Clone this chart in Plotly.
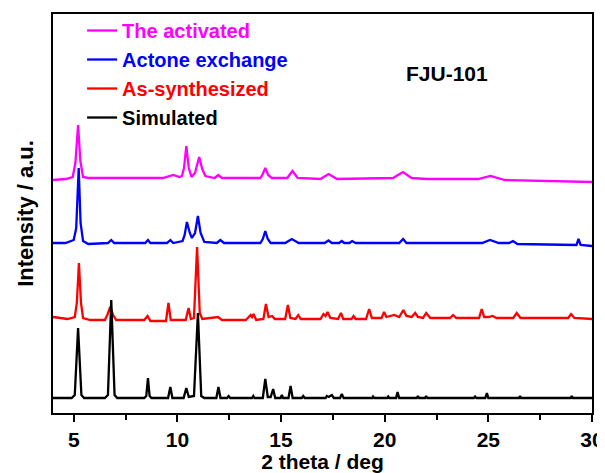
import plotly.graph_objects as go

# ---- data (2theta in deg, stacked intensity in arbitrary units) ----
sim_x = [4.0, 4.9, 5.05, 5.21, 5.37, 5.5, 6.5, 6.65, 6.81, 6.97, 7.1, 8.4, 8.5, 8.58, 8.66, 8.75,
         9.55, 9.66, 9.76, 10.3, 10.43, 10.55, 10.8, 10.99, 11.15, 11.3, 11.88, 11.98, 12.08,
         12.4, 12.47, 12.55, 13.6, 13.66, 13.72, 14.12, 14.24, 14.36, 14.5, 14.62, 14.72,
         14.98, 15.04, 15.1, 15.36, 15.46, 15.56, 16.0, 16.07, 16.14, 17.15, 17.21, 17.3,
         17.45, 17.55, 17.85, 17.93, 18.02, 19.4, 19.44, 19.5, 20.12, 20.17, 20.22, 20.55,
         20.62, 20.7, 21.55, 21.6, 21.66, 21.95, 22.0, 22.06, 24.3, 24.36, 24.42, 24.85,
         24.93, 25.0, 26.48, 26.53, 26.58, 28.97, 29.02, 29.08, 30.0]
sim_y = [15, 15, 18, 85, 18, 15, 15, 18, 113, 18, 15, 15, 17, 35, 17, 15,
         15, 26, 15, 15, 25, 16, 17, 100, 17, 15, 15, 26, 15,
         15, 17, 15, 15, 17, 15, 15, 34, 16, 16, 24, 15,
         15, 18, 15, 15, 27, 15, 15, 17, 15, 15, 17, 16,
         18, 15, 15, 19, 15, 15, 16.5, 15, 15, 16.5, 15, 15,
         21, 15, 15, 17, 15, 15, 17, 15, 15, 16.5, 15, 15,
         20, 15, 15, 17, 15, 15, 17, 15, 15]

syn_x = [4.0, 4.7, 5.05, 5.15, 5.25, 5.35, 5.45, 5.8, 6.5, 6.62, 6.76, 6.9, 7.05, 8.4, 8.56, 8.7,
         9.45, 9.57, 9.68, 10.4, 10.54, 10.65, 10.8, 10.95, 11.08, 11.2, 11.58, 11.96, 12.15,
         13.3, 13.53, 13.6, 13.67, 13.8, 14.15, 14.27, 14.4, 14.57, 14.7, 15.2, 15.33, 15.45,
         15.7, 15.83, 15.95, 16.9, 17.05, 17.15, 17.24, 17.38, 17.75, 17.89, 18.0, 18.4, 18.5,
         18.6, 19.1, 19.25, 19.38, 19.85, 19.97, 20.08, 20.46, 20.7, 20.9, 21.05, 21.3, 21.47,
         21.6, 21.85, 22.0, 22.2, 23.15, 23.3, 23.45, 24.55, 24.68, 24.8, 25.0, 25.2, 25.4,
         26.2, 26.37, 26.55, 28.85, 28.99, 29.15, 30.0]
syn_y = [96, 94, 96, 110, 150, 110, 95, 93, 93, 98, 106, 98, 93, 93, 97, 92,
         92, 110, 93, 93, 105, 94, 95, 166, 100, 94, 95, 96, 93,
         93, 98, 96, 99, 93, 94, 109, 96, 97, 94, 94, 108, 95,
         94, 98, 94, 94, 99, 97, 101, 95, 94, 100, 94, 94, 97,
         94, 94, 104, 95, 95, 101, 96, 98, 96, 103, 97, 96, 100,
         96, 95, 100, 95, 95, 98, 95, 95, 104, 96, 96, 97, 95,
         95, 100, 95, 95, 99, 95, 94]

ace_x = [4.0, 4.6, 5.0, 5.12, 5.24, 5.33, 5.45, 5.7, 6.65, 6.81, 6.95, 8.45, 8.58, 8.7, 9.5, 9.66,
         9.8, 10.25, 10.35, 10.46, 10.6, 10.7, 10.85, 10.99, 11.12, 11.3, 11.9, 12.07, 12.25,
         14.0, 14.12, 14.24, 14.36, 14.5, 15.2, 15.52, 15.85, 17.1, 17.29, 17.45, 17.8, 17.93,
         18.05, 18.3, 18.43, 18.6, 20.7, 20.89, 21.05, 24.7, 25.08, 25.5, 26.0, 26.19, 26.4,
         29.25, 29.35, 29.45, 30.0]
ace_y = [170, 170, 173, 185, 245, 190, 172, 169, 170, 173, 170, 170, 173, 170, 170, 173,
         170, 172, 178, 191, 180, 175, 180, 197, 180, 171, 170, 173, 170,
         170, 174, 182, 174, 170, 170, 174, 170, 170, 172.5, 170, 170, 172,
         170, 170, 172, 170, 170, 174, 170, 170, 173, 170, 170, 172, 169,
         168, 174, 168, 167]

act_x = [4.0, 4.6, 4.95, 5.08, 5.21, 5.32, 5.45, 5.7, 9.3, 9.8, 10.1, 10.22, 10.32, 10.43, 10.55,
         10.68, 10.85, 11.05, 11.2, 11.35, 11.8, 11.97, 12.15, 14.0, 14.1, 14.24, 14.38, 14.55,
         15.3, 15.55, 15.8, 16.9, 17.29, 17.7, 20.4, 20.88, 21.3, 22.0, 24.5, 25.1, 25.8, 30.0]
act_y = [233, 234, 236, 250, 288, 252, 236, 235, 235, 238, 236, 237, 245, 267, 245,
         236, 240, 256, 244, 237, 235, 238, 235, 235, 238, 245, 238, 235,
         235, 242, 235, 234, 239, 234, 235, 241, 235, 234, 234, 237, 233, 231]

series_names = ["The activated", "Actone exchange", "As-synthesized", "Simulated"]
series_colors = ["#FF00FF", "#0000FF", "#FF0000", "#000000"]
x_ticks = [5, 10, 15, 20, 25, 30]

FONT = "Liberation Sans, Arial, sans-serif"

fig = go.Figure()
for name, color, xs, ys in zip(series_names, series_colors,
                               [act_x, ace_x, syn_x, sim_x],
                               [act_y, ace_y, syn_y, sim_y]):
    fig.add_trace(go.Scatter(
        x=xs, y=ys, mode="lines", line=dict(color=color, width=2.3),
        name=f'<b><span style="color:{color}">{name}</span></b>',
    ))

fig.add_annotation(x=23.0, y=340, xref="x", yref="y", text="<b>FJU-101</b>",
                   showarrow=False, font=dict(family=FONT, size=21, color="black"))

# page body adds an 8px offset, so the figure is 8px smaller than the window
fig.update_layout(
    width=597, height=465,
    margin=dict(l=45, r=13, t=6, b=60, autoexpand=False),
    paper_bgcolor="white", plot_bgcolor="white",
    font=dict(family=FONT, color="black"),
    showlegend=True,
    legend=dict(x=0.054, y=1.0075, xanchor="left", yanchor="top",
                bgcolor="rgba(0,0,0,0)", borderwidth=0,
                font=dict(family=FONT, size=20), traceorder="normal",
                tracegroupgap=0),
    xaxis=dict(range=[4, 30], tickvals=x_ticks, ticks="outside", ticklen=7, tickwidth=2,
               tickcolor="black", showline=True, linecolor="black", linewidth=2.2,
               mirror=True, showgrid=False, zeroline=False,
               tickfont=dict(family=FONT, size=21, color="black", weight="bold"),
               minor=dict(dtick=2.5, tick0=0, ticks="outside", ticklen=5, tickwidth=2,
                          tickcolor="black", showgrid=False),
               title=dict(text="<b>2 theta / deg</b>", standoff=3,
                          font=dict(family=FONT, size=21, color="black"))),
    yaxis=dict(range=[0, 399], showticklabels=False, ticks="", showline=True,
               linecolor="black", linewidth=2.2, mirror=True, showgrid=False,
               zeroline=False,
               title=dict(text="<b>Intensity / a.u.</b>", standoff=11,
                          font=dict(family=FONT, size=22, color="black"))),
)

fig.write_html("out.html")
